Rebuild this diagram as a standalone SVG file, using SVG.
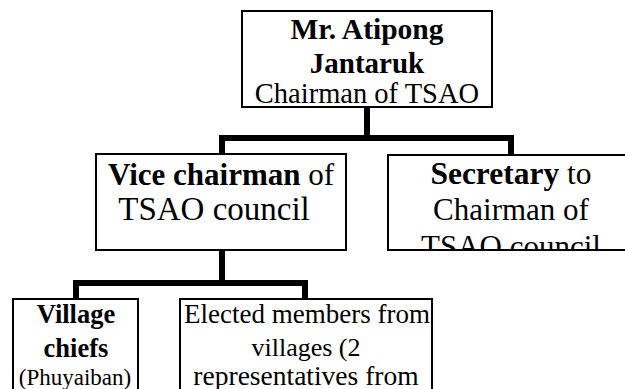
<svg xmlns="http://www.w3.org/2000/svg" width="625" height="389" viewBox="0 0 625 389">
<style>
.box{fill:#fff;stroke:#000;stroke-width:2}
.conn{fill:none;stroke:#000;stroke-width:6;stroke-linejoin:miter;stroke-linecap:square}
.t{fill:#000;text-anchor:middle}
.b{font-weight:bold}
</style>
<defs>
<clipPath id="secClip"><rect x="389" y="156" width="240" height="93"/></clipPath>
</defs>
<rect width="625" height="389" fill="#fff"/>
<g id="connectors">
<path class="conn" d="M367,108 V138 M222,154 V138 H511 V154"/>
<path class="conn" d="M222,251 V283 M76,298 V283 H305 V298"/>
</g>
<g font-family="Liberation Serif, Times New Roman, DejaVu Serif, serif">
<g id="chairman">
<rect class="box" x="242" y="11" width="250" height="96"/>
<text class="t b" font-size="29.5" x="367" y="39">Mr. Atipong</text>
<text class="t b" font-size="29" x="367" y="73">Jantaruk</text>
<text class="t" font-size="28.5" x="367" y="103">Chairman of TSAO</text>
</g>
<g id="vice">
<rect class="box" x="96" y="154" width="250" height="96"/>
<text class="t" font-size="31" x="221" y="185"><tspan class="b">Vice chairman</tspan> of</text>
<text class="t" font-size="33" x="214" y="220">TSAO council</text>
</g>
<g id="secretary">
<rect class="box" x="388" y="155" width="260" height="95"/>
<g clip-path="url(#secClip)">
<text class="t" font-size="31.5" x="511" y="184"><tspan class="b">Secretary</tspan> to</text>
<text class="t" font-size="31" x="511" y="220">Chairman of</text>
<text class="t" font-size="31" x="511" y="257">TSAO council</text>
</g>
</g>
<g id="village">
<rect class="box" x="13" y="299" width="125" height="110"/>
<text class="t b" font-size="26.5" x="76" y="323">Village</text>
<text class="t b" font-size="26.5" x="76" y="357">chiefs</text>
<text class="t" font-size="23" x="75" y="385">(Phuyaiban)</text>
</g>
<g id="elected">
<rect class="box" x="180" y="299" width="252" height="110"/>
<text class="t" font-size="27" x="307" y="323">Elected members from</text>
<text class="t" font-size="26" x="306" y="356">villages (2</text>
<text class="t" font-size="27.5" x="306" y="385">representatives from</text>
</g>
</g>
</svg>
